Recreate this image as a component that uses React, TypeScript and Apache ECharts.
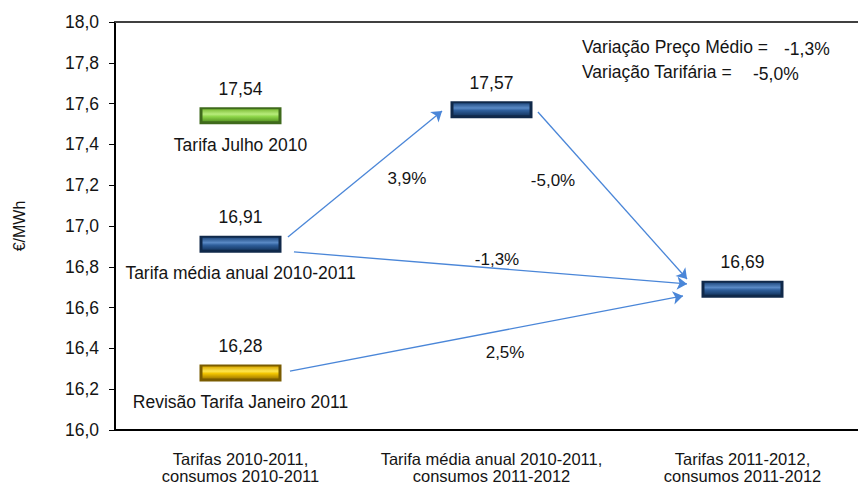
import React, { useEffect, useRef } from "react";
import * as echarts from "echarts";

const categories = [
  "Tarifas 2010-2011,\nconsumos 2010-2011",
  "Tarifa média anual 2010-2011,\nconsumos 2011-2012",
  "Tarifas 2011-2012,\nconsumos 2011-2012",
];
const yMin = 16;
const yMax = 18;
const yInterval = 0.2;
const yAxisName = "€/MWh";

const markerCategory = [0, 0, 0, 1, 2];
const markerValues = [17.54, 16.91, 16.28, 17.57, 16.69];
const markerColors = ["green", "blue", "yellow", "blue", "blue"];
const markerNames = ["Tarifa Julho 2010", "Tarifa média anual 2010-2011", "Revisão Tarifa Janeiro 2011", "", ""];

// arrows: [x, y] on a 0..3 horizontal scale (category k centred at k+0.5)
const arrowsFrom = [
  [0.689, 16.946],
  [0.713, 16.873],
  [0.697, 16.289],
  [1.685, 17.559],
];
const arrowsTo = [
  [1.303, 17.564],
  [2.279, 16.716],
  [2.263, 16.657],
  [2.279, 16.74],
];
const arrowLabels = ["3,9%", "-1,3%", "2,5%", "-5,0%"];
const arrowLabelPos = [
  [1.163, 17.235],
  [1.522, 16.838],
  [1.554, 16.382],
  [1.745, 17.225],
];

const noteLines = ["Variação Preço Médio =", "Variação Tarifária ="];
const noteValues = ["-1,3%", "-5,0%"];

const FONT = "'Liberation Sans', Arial, sans-serif";
const TXT = "#141414";

const palettes: Record<string, { edge: string; stops: string[] }> = {
  green: { edge: "#3f6a1c", stops: ["#7fbf3a", "#b8ec7c", "#8ed64a", "#5c9a26"] },
  blue: { edge: "#10294a", stops: ["#244e84", "#5a8ac6", "#2f5f9c", "#173a66"] },
  yellow: { edge: "#7a5c00", stops: ["#d9a800", "#ffe650", "#f2c400", "#a88000"] },
};

const fmt2 = (v: number) => v.toFixed(2).replace(".", ",");

export default function App() {
  const ref = useRef<HTMLDivElement>(null);
  useEffect(() => {
    if (!ref.current) return;
    const chart = echarts.init(ref.current, undefined, { renderer: "svg" });
    const markerData = markerValues.map((v, i) => [markerCategory[i], v, i]);
    const option: any = {
      animation: false,
      textStyle: { fontFamily: FONT },
      grid: { left: 115, top: 22, right: 0, bottom: 54, containLabel: false },
      xAxis: [
        {
          type: "category",
          data: categories,
          position: "bottom",
          axisLine: { show: true, lineStyle: { color: "#000", width: 2 } },
          axisTick: { show: false },
          axisLabel: { interval: 0, color: TXT, fontSize: 16.5, lineHeight: 17, margin: 20, fontFamily: FONT },
          splitLine: { show: false },
        },
        {
          type: "value",
          min: 0,
          max: 3,
          position: "top",
          axisLine: { show: true, onZero: false, lineStyle: { color: "#404040", width: 2 } },
          axisTick: { show: false },
          axisLabel: { show: false },
          splitLine: { show: false },
        },
      ],
      yAxis: {
        type: "value",
        min: yMin,
        max: yMax,
        interval: yInterval,
        name: yAxisName,
        nameLocation: "middle",
        nameGap: 88,
        nameTextStyle: { color: TXT, fontSize: 16, fontFamily: FONT },
        axisLine: { show: true, lineStyle: { color: "#000", width: 2 } },
        axisTick: { show: true, length: 6, lineStyle: { color: "#000", width: 1 } },
        axisLabel: {
          color: TXT,
          fontSize: 17.5,
          margin: 16,
          fontFamily: FONT,
          formatter: (v: number) => v.toFixed(1).replace(".", ","),
        },
        splitLine: { show: false },
      },
      graphic: noteLines.flatMap((t, i) => [
        {
          type: "text",
          left: 582,
          top: 38 + i * 25,
          style: { text: t, fill: TXT, fontSize: 17.5, fontFamily: FONT },
        },
        {
          type: "text",
          left: i === 0 ? 784 : 753,
          top: 38 + i * 25 + 2,
          style: { text: noteValues[i], fill: TXT, fontSize: 17.5, fontFamily: FONT },
        },
      ]),
      series: [
        {
          type: "custom",
          xAxisIndex: 0,
          yAxisIndex: 0,
          data: markerData,
          renderItem: (params: any, api: any) => {
            const c = api.coord([api.value(0), api.value(1)]);
            const idx = api.value(2);
            const pal = palettes[markerColors[idx]];
            const w = 82;
            const h = 17;
            const x = c[0] - w / 2;
            const y = c[1] - h / 2;
            const children: any[] = [
              { type: "rect", shape: { x, y, width: w, height: h }, style: { fill: pal.edge } },
              {
                type: "rect",
                shape: { x: x + 3, y: y + 2, width: w - 6, height: h - 5 },
                style: {
                  fill: new echarts.graphic.LinearGradient(0, 0, 0, 1, [
                    { offset: 0, color: pal.stops[0] },
                    { offset: 0.4, color: pal.stops[1] },
                    { offset: 0.6, color: pal.stops[2] },
                    { offset: 1, color: pal.stops[3] },
                  ]),
                },
              },
              {
                type: "text",
                x: c[0],
                y: c[1] - 27,
                style: {
                  text: fmt2(markerValues[idx]),
                  align: "center",
                  verticalAlign: "middle",
                  fill: TXT,
                  fontSize: 17.5,
                  fontFamily: FONT,
                },
              },
            ];
            if (markerNames[idx]) {
              children.push({
                type: "text",
                x: c[0],
                y: c[1] + 29,
                style: {
                  text: markerNames[idx],
                  align: "center",
                  verticalAlign: "middle",
                  fill: TXT,
                  fontSize: 17.5,
                  fontFamily: FONT,
                },
              });
            }
            return { type: "group", children };
          },
        },
        {
          type: "scatter",
          xAxisIndex: 1,
          yAxisIndex: 0,
          symbolSize: 0,
          silent: true,
          itemStyle: { opacity: 1 },
          data: arrowLabelPos.map((p, i) => ({ value: p, name: arrowLabels[i] })),
          label: {
            show: true,
            position: "inside",
            formatter: (p: any) => p.name,
            color: TXT,
            opacity: 1,
            fontSize: 17,
            fontFamily: FONT,
          },
          markLine: {
            silent: true,
            symbol: ["none", "arrow"],
            symbolSize: 10,
            label: { show: false },
            lineStyle: { color: "#4a86d8", width: 1.3, type: "solid", opacity: 1 },
            data: arrowsFrom.map((f, i) => [{ coord: f }, { coord: arrowsTo[i] }]),
          },
        },
      ],
    };
    chart.setOption(option);
    return () => chart.dispose();
  }, []);
  return (
    <div style={{ position: "fixed", left: 0, top: 0, width: 858, height: 484, overflow: "hidden", background: "#fff" }}>
      <div ref={ref} style={{ width: 868, height: 484 }} />
    </div>
  );
}
